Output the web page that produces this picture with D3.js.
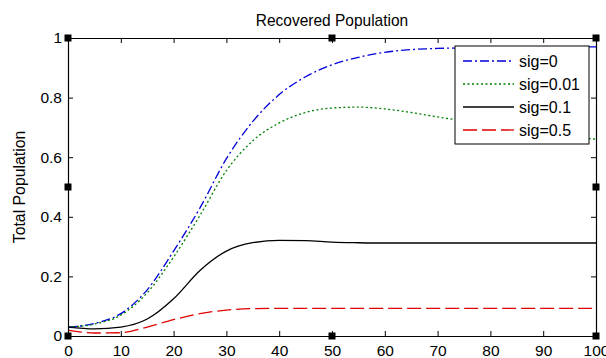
<!DOCTYPE html>
<html>
<head>
<meta charset="utf-8">
<script src="https://cdn.jsdelivr.net/npm/d3@7"></script>
<style>
  html, body { margin: 0; padding: 0; background: #fff; }
  svg { display: block; font-family: "Liberation Sans", Arial, sans-serif; }
</style>
</head>
<body>
<svg id="chart" width="606" height="358"></svg>
<script>
// Time grid (days) shared by all series
const time = [0, 5, 10, 15, 20, 25, 30, 35, 40, 45, 50, 55, 60, 65, 70, 75, 80, 85, 90, 95, 100];

// Recovered fraction for each noise intensity
const sig0    = [0.030, 0.042, 0.075, 0.155, 0.285, 0.430, 0.595, 0.720, 0.810, 0.870, 0.910, 0.935, 0.952, 0.961, 0.965, 0.967, 0.968, 0.969, 0.969, 0.970, 0.970];
const sig001  = [0.030, 0.040, 0.070, 0.145, 0.265, 0.405, 0.555, 0.655, 0.715, 0.750, 0.765, 0.768, 0.762, 0.750, 0.735, 0.722, 0.710, 0.695, 0.683, 0.670, 0.660];
const sig01   = [0.030, 0.024, 0.030, 0.057, 0.125, 0.220, 0.285, 0.313, 0.321, 0.320, 0.315, 0.313, 0.312, 0.312, 0.312, 0.312, 0.312, 0.312, 0.312, 0.312, 0.312];
const sig05   = [0.020, 0.010, 0.011, 0.030, 0.055, 0.075, 0.087, 0.092, 0.093, 0.093, 0.093, 0.093, 0.093, 0.093, 0.093, 0.093, 0.093, 0.093, 0.093, 0.093, 0.093];

const seriesNames = ["sig=0", "sig=0.01", "sig=0.1", "sig=0.5"];
const seriesValues = [sig0, sig001, sig01, sig05];
const seriesColors = ["#0000d8", "#008000", "#000000", "#e00000"];
const seriesDash = ["9,3,2,3", "2,2.5", null, "14,5"];

const xTicks = [0, 10, 20, 30, 40, 50, 60, 70, 80, 90, 100];
const yTicks = [0, 0.2, 0.4, 0.6, 0.8, 1];
const yTickLabels = ["0", "0.2", "0.4", "0.6", "0.8", "1"];

const svg = d3.select("#chart");
const plotLeft = 68, plotRight = 596, plotTop = 38, plotBottom = 336;
const fontSize = 15.5;

const x = d3.scaleLinear().domain([0, 100]).range([plotLeft, plotRight]);
const y = d3.scaleLinear().domain([0, 1]).range([plotBottom, plotTop]);

// Title and axis label
svg.append("text")
  .attr("transform", `translate(${(plotLeft + plotRight) / 2},26) scale(1,1.12)`)
  .attr("text-anchor", "middle").attr("font-size", 15.5).attr("fill", "#000")
  .text("Recovered Population");

svg.append("text")
  .attr("transform", `translate(25,${(plotTop + plotBottom) / 2}) rotate(-90)`)
  .attr("text-anchor", "middle").attr("font-size", 15.8).attr("fill", "#000")
  .text("Total Population");

// Curves
const line = d3.line()
  .x((d, i) => x(time[i]))
  .y(d => y(d))
  .curve(d3.curveMonotoneX);

const plot = svg.append("g");
seriesValues.forEach((vals, k) => {
  plot.append("path")
    .datum(vals)
    .attr("d", line)
    .attr("fill", "none")
    .attr("stroke", seriesColors[k])
    .attr("stroke-width", 1.3)
    .attr("stroke-dasharray", seriesDash[k]);
});

// Axes with inward ticks on all four sides
const tickLen = 5;
const xBottom = d3.axisBottom(x).tickValues(xTicks).tickSizeInner(-tickLen).tickSizeOuter(0).tickPadding(9).tickFormat(d3.format("d"));
const xTop = d3.axisTop(x).tickValues(xTicks).tickSizeInner(-tickLen).tickSizeOuter(0).tickFormat("");
const yLeft = d3.axisLeft(y).tickValues(yTicks).tickSizeInner(-tickLen).tickSizeOuter(0).tickPadding(6).tickFormat((d, i) => yTickLabels[i]);
const yRight = d3.axisRight(y).tickValues(yTicks).tickSizeInner(-tickLen).tickSizeOuter(0).tickFormat("");

function styleAxis(g) {
  g.selectAll("path").attr("stroke", "#000").attr("stroke-width", 1.2);
  g.selectAll("line").attr("stroke", "#000");
  g.selectAll("text").attr("font-size", fontSize).attr("fill", "#000")
    .attr("font-family", "\"Liberation Sans\", Arial, sans-serif");
}

svg.append("g").attr("transform", `translate(0,${plotBottom})`).call(xBottom).call(styleAxis);
svg.append("g").attr("transform", `translate(0,${plotTop})`).call(xTop).call(styleAxis);
svg.append("g").attr("transform", `translate(${plotLeft},0)`).call(yLeft).call(styleAxis);
svg.append("g").attr("transform", `translate(${plotRight},0)`).call(yRight).call(styleAxis);

// Legend
const legend = svg.append("g");
const lgX = 455, lgY = 46, lgW = 134, lgH = 98;
legend.append("rect")
  .attr("x", lgX).attr("y", lgY).attr("width", lgW).attr("height", lgH)
  .attr("fill", "#fff").attr("stroke", "#000").attr("stroke-width", 1);
seriesNames.forEach((name, k) => {
  const ry = lgY + 15 + k * 23;
  legend.append("line")
    .attr("x1", lgX + 8).attr("x2", lgX + 59)
    .attr("y1", ry).attr("y2", ry)
    .attr("stroke", seriesColors[k]).attr("stroke-width", 1.3)
    .attr("stroke-dasharray", seriesDash[k]);
  legend.append("text")
    .attr("x", lgX + 64).attr("y", ry + 6)
    .attr("font-size", 16).attr("fill", "#000")
    .text(name);
});

// Selection handles on the axes box
const hx = [plotLeft, (plotLeft + plotRight) / 2, plotRight];
const hy = [plotTop, (plotTop + plotBottom) / 2, plotBottom];
const handles = [];
hx.forEach((px, i) => hy.forEach((py, j) => {
  if (!(i === 1 && j === 1)) handles.push([px, py]);
}));
svg.append("g").selectAll("rect").data(handles).join("rect")
  .attr("x", d => d[0] - 3.5).attr("y", d => d[1] - 3.5)
  .attr("width", 7).attr("height", 7)
  .attr("fill", "#000");
</script>
</body>
</html>
